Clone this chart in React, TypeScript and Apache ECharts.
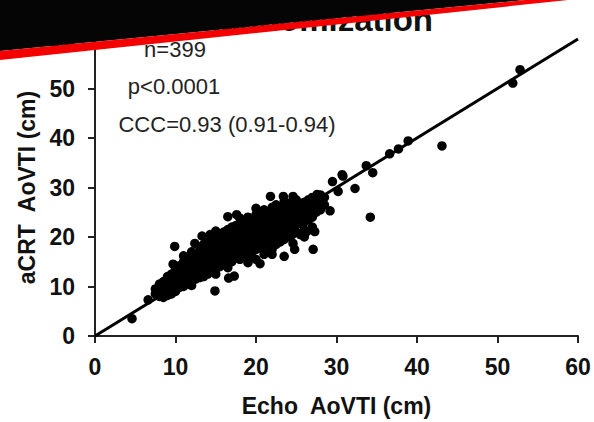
import React, { useEffect, useRef } from "react";
import * as echarts from "echarts";

const FONT = "'Liberation Sans', Arial, Helvetica, sans-serif";

const xTicks = [0, 10, 20, 30, 40, 50, 60];
const yTicks = [0, 10, 20, 30, 40, 50, 60];

const titleText = "Randomization";
const annotations = ["n=399", "p<0.0001", "CCC=0.93 (0.91-0.94)"];
const xAxisName = "Echo  AoVTI (cm)";
const yAxisName = "aCRT  AoVTI (cm)";

// identity / regression line
const fitLine: [number, number][] = [
  [0, 0],
  [60, 60],
];

// Echo AoVTI (x) vs aCRT AoVTI (y)
const lowPoints: [number, number][] = [
  [4.6, 3.5], [6.6, 7.3], [7.5, 8.5], [7.5, 9.5], [8, 8], [8, 9.2], [8, 10.5],
  [8.5, 7.8], [8.5, 9], [8.5, 10], [8.5, 11], [9, 8.2], [9, 9.5], [9, 10.8], [9, 12],
  [9.3, 11.1], [9.5, 8.5], [9.5, 10], [9.5, 11.2], [9.5, 12.5], [9.7, 14.5], [9.9, 18.1],
  [10, 9], [10, 10.5], [10, 11.5], [10, 12.8], [10, 13.5],
  [10.5, 9.8], [10.5, 11], [10.5, 12], [10.5, 13], [10.5, 14.2],
  [11, 10], [11, 11.5], [11, 12.5], [11, 13.8], [11, 15], [11, 16.2],
  [11.5, 10.5], [11.5, 12], [11.5, 13], [11.5, 14.5], [11.5, 15.5],
];

const midPoints: [number, number][] = [
  [12, 10.2], [12, 11], [12, 12.2], [12, 13.5], [12, 14.8], [12, 16], [12, 17], [12.4, 18.7],
  [12.5, 11.5], [12.5, 12.8], [12.5, 14], [12.5, 15.2], [12.5, 16.5],
  [13, 11.8], [13, 13], [13, 14.2], [13, 15.5], [13, 16.8], [13, 18], [13.3, 20.2],
  [13.5, 12], [13.5, 13.5], [13.5, 14.8], [13.5, 16], [13.5, 17.2], [13.5, 18.5],
  [14, 12.5], [14, 14], [14, 15], [14, 16.2], [14, 17.5], [14, 19], [14.3, 20.5],
  [14.5, 13], [14.5, 14.5], [14.5, 15.8], [14.5, 17], [14.5, 18.2], [14.5, 19.5],
  [14.9, 9.1], [15, 12.5], [15, 13.5], [15, 15], [15, 16.2], [15, 17.5], [15, 18.8], [15, 20],
  [15, 21.2],
  [15.5, 14], [15.5, 15.5], [15.5, 16.8], [15.5, 18], [15.5, 19.2], [15.5, 20.5],
  [16, 14.5], [16, 16], [16, 17.2], [16, 18.5], [16, 19.8], [16, 21],
  [16.5, 24.1], [16.6, 11.7], [16.5, 13.8], [16.5, 15], [16.5, 16.5], [16.5, 17.8],
  [16.5, 19], [16.5, 20.2], [16.5, 21.5],
  [17, 15], [17, 16.5], [17, 17.8], [17, 19], [17, 20.5], [17, 22],
  [17.3, 12.1], [17.6, 24.5],
  [17.5, 15.8], [17.5, 17], [17.5, 18.2], [17.5, 19.5], [17.5, 20.8], [17.5, 22.3],
  [18, 15.5], [18, 17], [18, 18.5], [18, 19.8], [18, 21], [18, 22.5], [18, 23.8],
  [18.5, 16.5], [18.5, 18], [18.5, 19.2], [18.5, 20.5], [18.5, 21.8], [18.5, 23],
  [18.9, 22.7],
  [19, 14.8], [19, 16], [19, 17.5], [19, 19], [19, 20.2], [19, 21.5], [19, 22.8], [19, 24],
  [19.5, 17], [19.5, 18.5], [19.5, 19.8], [19.5, 21], [19.5, 22.2], [19.5, 23.5],
  [20, 15.5], [20, 17.5], [20, 19], [20, 20.2], [20, 21.5], [20, 22.8], [20, 24.5], [20, 25.8],
  [20.5, 14.6], [20.5, 17.8], [20.5, 19.5], [20.5, 20.8], [20.5, 22], [20.5, 23.2], [20.5, 25],
  [21, 16.5], [21, 18.5], [21, 20], [21, 21.2], [21, 22.5], [21, 23.8], [21, 25.5],
  [21.5, 18], [21.5, 19.5], [21.5, 21], [21.5, 22.2], [21.5, 23.5], [21.5, 24.8],
];

const highPoints: [number, number][] = [
  [21.8, 28.2], [22, 16.5], [22, 17.5], [22, 19], [22, 20.5], [22, 21.8], [22, 23], [22, 24.5],
  [22, 26],
  [22.5, 18.5], [22.5, 20], [22.5, 21.5], [22.5, 22.8], [22.5, 24], [22.5, 25.2], [22.5, 26.5],
  [23, 19], [23, 20.8], [23, 22], [23, 23.2], [23, 24.5], [23, 25.8],
  [23.4, 28.2], [23.5, 16.1],
  [23.5, 19.5], [23.5, 21], [23.5, 22.5], [23.5, 23.8], [23.5, 25], [23.5, 26.3], [23.5, 27.2],
  [24, 20], [24, 21.5], [24, 23], [24, 24.2], [24, 25.5], [24, 26.8],
  [24.6, 18.7], [24.8, 17.5], [24.6, 28.2],
  [24.5, 20.5], [24.5, 22], [24.5, 23.5], [24.5, 24.8], [24.5, 26], [24.5, 27],
  [25, 21], [25, 22.5], [25, 24], [25, 25.2], [25, 26.3], [25, 27.5],
  [25.5, 20.5], [25.5, 22.8], [25.5, 24.2], [25.5, 25.5], [25.5, 26.8],
  [26, 20], [26, 21.5], [26, 23], [26, 24.5], [26, 25.8], [26, 27],
  [26.3, 21.1], [26.5, 23.5], [26.5, 25], [26.5, 26.2], [26.5, 27.5],
  [27, 22], [27, 24], [27, 25.5], [27, 26.8], [27, 28],
  [27.1, 17.5], [27.3, 21.1],
  [27.5, 25], [27.5, 26.5], [27.5, 27.8], [27.6, 28.6],
  [28, 25.5], [28, 27], [28, 28.5], [28.5, 26.5], [28.5, 28],
  [29.2, 25.3], [29.5, 31.2], [30.2, 29.2], [30.7, 32.6], [30.8, 32.3],
  [32.3, 29.8], [33.7, 34.4], [34.5, 33], [34.2, 24],
  [36.6, 36.8], [37.7, 37.8], [38.9, 39.4], [43.1, 38.4], [51.9, 51.1], [52.8, 53.8],
];

const scatterPoints: [number, number][] = [...lowPoints, ...midPoints, ...highPoints];

export default function App() {
  const ref = useRef<HTMLDivElement>(null);

  useEffect(() => {
    if (!ref.current) return;
    const chart = echarts.init(ref.current, undefined, { renderer: "svg" });

    const axisCommon = {
      type: "value" as const,
      min: 0,
      max: 60,
      interval: 10,
      splitLine: { show: false },
      axisLine: { show: true, onZero: false, lineStyle: { color: "#222", width: 2 } },
      axisTick: { show: true, length: 7, lineStyle: { color: "#222", width: 2 } },
      nameLocation: "middle" as const,
      nameTextStyle: {
        fontFamily: FONT,
        fontSize: 23,
        fontWeight: "bold" as const,
        color: "#111",
      },
    };

    chart.setOption({
      animation: false,
      backgroundColor: "#ffffff",
      grid: { left: 95, right: 16, top: 39, bottom: 82, containLabel: false },
      xAxis: {
        ...axisCommon,
        name: xAxisName,
        nameGap: 58,
        axisLabel: {
          fontFamily: FONT,
          fontSize: 23,
          fontWeight: "bold",
          color: "#111",
          margin: 19,
          formatter: (v: number) => (xTicks.includes(v) ? String(v) : ""),
        },
      },
      yAxis: {
        ...axisCommon,
        name: yAxisName,
        nameGap: 56,
        axisLabel: {
          fontFamily: FONT,
          fontSize: 23,
          fontWeight: "bold",
          color: "#111",
          margin: 20,
          formatter: (v: number) => (yTicks.includes(v) ? String(v) : ""),
        },
      },
      series: [
        {
          type: "scatter",
          data: scatterPoints,
          symbol: "circle",
          symbolSize: 9.5,
          itemStyle: { color: "#000", opacity: 1 },
          z: 2,
        },
        {
          type: "line",
          data: fitLine,
          showSymbol: false,
          symbol: "none",
          lineStyle: { color: "#000", width: 3 },
          z: 3,
        },
      ],
      graphic: [
        {
          type: "text",
          x: 433,
          y: 36,
          z: 900,
          style: {
            text: titleText,
            fontFamily: FONT,
            fontSize: 33,
            fontWeight: "bold",
            fill: "#111",
            textAlign: "right",
            textVerticalAlign: "bottom",
          },
        },
        {
          type: "polygon",
          z: 1000,
          shape: { points: [[0, 0], [525, 0], [0, 51]] },
          style: { fill: "#050505" },
        },
        {
          type: "polygon",
          z: 1000,
          shape: { points: [[0, 51], [525, 0], [568, 0], [0, 60]] },
          style: { fill: "#f40000" },
        },
        {
          type: "text",
          x: 175,
          y: 49,
          z: 800,
          style: {
            text: annotations[0],
            fontFamily: FONT,
            fontSize: 22,
            fill: "#222",
            textAlign: "center",
            textVerticalAlign: "middle",
          },
        },
        {
          type: "text",
          x: 174,
          y: 86,
          z: 800,
          style: {
            text: annotations[1],
            fontFamily: FONT,
            fontSize: 22,
            fill: "#222",
            textAlign: "center",
            textVerticalAlign: "middle",
          },
        },
        {
          type: "text",
          x: 227,
          y: 124,
          z: 800,
          style: {
            text: annotations[2],
            fontFamily: FONT,
            fontSize: 22,
            fill: "#222",
            textAlign: "center",
            textVerticalAlign: "middle",
          },
        },
      ],
    });

    return () => {
      chart.dispose();
    };
  }, []);

  return (
    <div
      ref={ref}
      style={{ position: "absolute", left: 0, top: 0, width: 594, height: 422, background: "#fff" }}
    />
  );
}
